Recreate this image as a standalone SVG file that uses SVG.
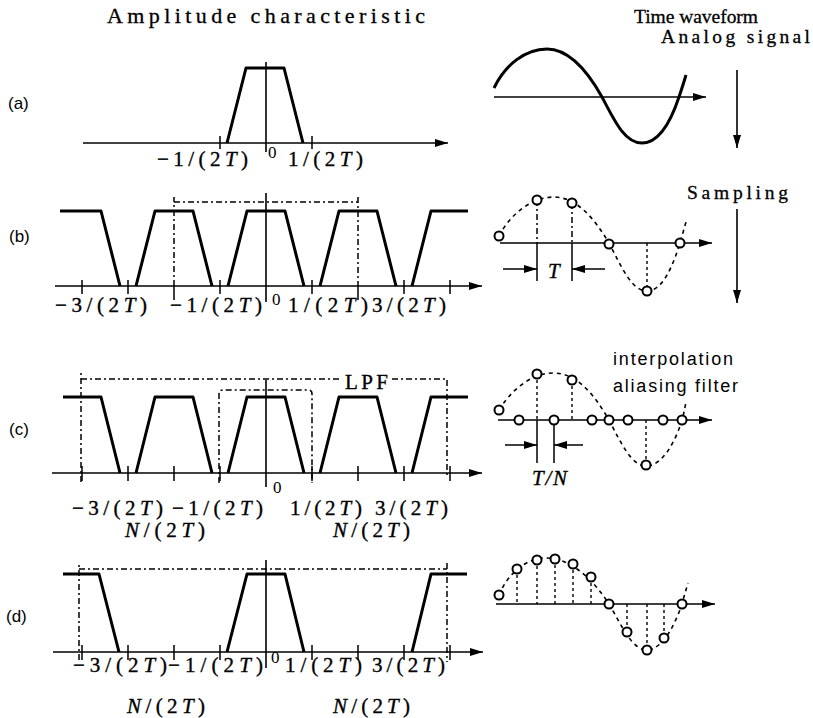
<svg xmlns="http://www.w3.org/2000/svg" width="813" height="718" viewBox="0 0 813 718">
<defs>
<marker id="ah" markerUnits="userSpaceOnUse" markerWidth="14" markerHeight="10" refX="13" refY="4" orient="auto"><path d="M0,0 L13,4 L0,8 z" fill="#000"/></marker>
<style>
.ax{stroke:#000;stroke-width:1.6;fill:none}
.tk{stroke:#000;stroke-width:1.5}
.tr{stroke:#000;stroke-width:3;fill:none;stroke-linejoin:round}
.dd{stroke:#000;stroke-width:1.5;fill:none;stroke-dasharray:6 3 2 3}
.sd{stroke:#000;stroke-width:1.6;fill:none;stroke-dasharray:4 4}
.vl{stroke:#000;stroke-width:1.4;fill:none;stroke-dasharray:3 3}
.sc{fill:#fff;stroke:#000;stroke-width:2}
.lb{font-family:"Liberation Serif",serif;font-size:21px;fill:#000;stroke:#000;stroke-width:0.35}
.zr{font-family:"Liberation Serif",serif;font-size:17px;fill:#000}
.tt{font-family:"Liberation Serif",serif;font-size:22px;fill:#000;stroke:#000;stroke-width:0.3}
.t2{font-family:"Liberation Serif",serif;font-size:19.5px;fill:#000;stroke:#000;stroke-width:0.3}
.ss{font-family:"Liberation Sans",sans-serif;font-size:18px;fill:#000}
.rl{font-family:"Liberation Sans",sans-serif;font-size:17px;fill:#000}
.it{font-style:italic}
</style>
</defs>
<rect width="813" height="718" fill="#fff"/>

<g id="titles">
<text class="tt" x="107" y="23" textLength="318" lengthAdjust="spacing">Amplitude characteristic</text>
<text class="t2" x="634" y="23" textLength="124" lengthAdjust="spacing">Time waveform</text>
</g>

<g id="row-labels">
<text class="rl" x="8" y="109">(a)</text>
<text class="rl" x="9" y="242">(b)</text>
<text class="rl" x="9" y="435">(c)</text>
<text class="rl" x="6" y="622">(d)</text>
</g>

<!-- (a) amplitude -->
<g id="a-spectrum">
<path class="ax" d="M83,143 H448" marker-end="url(#ah)"/>
<path class="ax" d="M266,62 V152"/>
<path class="tk" d="M220,136 V149 M312,136 V149"/>
<path class="tr" d="M227,143 L246,68 L284,68 L303,143"/>
<text class="lb" x="157" y="166" textLength="91" lengthAdjust="spacing">−1/(2<tspan class="it">T</tspan>)</text>
<text class="zr" x="268" y="158">0</text>
<text class="lb" x="288" y="166" textLength="75" lengthAdjust="spacing">1/(2<tspan class="it">T</tspan>)</text>
</g>

<!-- (a) waveform -->
<g id="a-waveform">
<path class="ax" d="M494,97 H706" marker-end="url(#ah)"/>
<path stroke="#000" stroke-width="3" fill="none" d="M494,88 C505,65 525,49 547,49 C570,49 588,72 602,97 C615,122 625,143 642,143 C660,143 672,118 679,97 C682,88 684,82 686,75"/>
<text class="t2" x="661" y="43" textLength="149" lengthAdjust="spacing">Analog signal</text>
<path class="ax" d="M737,70 V148" marker-end="url(#ah)"/>
</g>

<!-- (b) amplitude -->
<g id="b-spectrum">
<path class="ax" d="M55,286 H482" marker-end="url(#ah)"/>
<path class="ax" d="M266,193 V302"/>
<path class="tk" d="M82,280 V294 M128,280 V294 M174,286 V300 M220,280 V294 M312,280 V294 M358,286 V300 M404,280 V294 M450,280 V294"/>
<path class="tr" d="M60,211 L101,211 L120,286"/>
<path class="tr" d="M136,286 L155,211 L193,211 L212,286"/>
<path class="tr" d="M228,286 L247,211 L285,211 L304,286"/>
<path class="tr" d="M320,286 L339,211 L377,211 L396,286"/>
<path class="tr" d="M412,286 L431,211 L468,211"/>
<path class="dd" d="M174,286 V197 M174,202 H358 M358,197 V286"/>
<text class="lb" x="55" y="312" textLength="92" lengthAdjust="spacing">−3/(2<tspan class="it">T</tspan>)</text>
<text class="lb" x="170" y="312" textLength="92" lengthAdjust="spacing">−1/(2<tspan class="it">T</tspan>)</text>
<text class="zr" x="272" y="305">0</text>
<text class="lb" x="288" y="312" textLength="80" lengthAdjust="spacing">1/(2<tspan class="it">T</tspan>)</text>
<text class="lb" x="372" y="312" textLength="74" lengthAdjust="spacing">3/(2<tspan class="it">T</tspan>)</text>
</g>

<!-- (b) waveform -->
<g id="b-waveform">
<path class="ax" d="M500,243 H712" marker-end="url(#ah)"/>
<path class="sd" d="M499,236 C510,215 530,198 553,197 C578,197 595,220 609,243 C622,268 632,291 647,291 C663,291 673,265 680,243 C682,236 684,229 686,222"/>
<path class="dd" d="M537,200 V243 M572,203 V243"/>
<path class="vl" d="M647,243 V291"/>
<path class="tk" d="M537,243 V281 M572,243 V281"/>
<path class="tk" d="M503,269 H537" marker-end="url(#ah)"/>
<path class="tk" d="M605,269 H572" marker-end="url(#ah)"/>
<text class="lb it" x="548" y="278">T</text>
<circle class="sc" cx="499" cy="236" r="4.5"/>
<circle class="sc" cx="537" cy="200" r="4.5"/>
<circle class="sc" cx="572" cy="203" r="4.5"/>
<circle class="sc" cx="609" cy="244" r="4.5"/>
<circle class="sc" cx="647" cy="291" r="4.5"/>
<circle class="sc" cx="680" cy="243" r="4.5"/>
<text class="t2" x="687" y="199" textLength="101" lengthAdjust="spacing">Sampling</text>
<path class="ax" d="M737,209 V303" marker-end="url(#ah)"/>
</g>

<!-- (c) amplitude -->
<g id="c-spectrum">
<path class="ax" d="M52,473 H482" marker-end="url(#ah)"/>
<path class="ax" d="M266,380 V487"/>
<path class="tk" d="M82,466 V481 M128,466 V481 M174,466 V481 M220,466 V481 M312,466 V481 M358,466 V481 M404,466 V481 M450,466 V481"/>
<path class="tr" d="M63,397 L101,397 L120,473"/>
<path class="tr" d="M136,473 L155,397 L193,397 L212,473"/>
<path class="tr" d="M228,473 L247,397 L285,397 L304,473"/>
<path class="tr" d="M320,473 L339,397 L377,397 L396,473"/>
<path class="tr" d="M412,473 L431,397 L468,397"/>
<path class="dd" d="M81,482 V370 M81,379 H341 M392,379 H447 V476"/>
<path class="dd" d="M219,483 V394 Q219,390 223,390 H308 Q312,390 312,394 V483"/>
<text class="lb" x="345" y="389" textLength="43" lengthAdjust="spacing">LPF</text>
<text class="lb" x="72" y="515" textLength="91" lengthAdjust="spacing">−3/(2<tspan class="it">T</tspan>)</text>
<text class="lb" x="172" y="515" textLength="91" lengthAdjust="spacing">−1/(2<tspan class="it">T</tspan>)</text>
<text class="zr" x="273" y="493">0</text>
<text class="lb" x="290" y="515" textLength="72" lengthAdjust="spacing">1/(2<tspan class="it">T</tspan>)</text>
<text class="lb" x="375" y="515" textLength="73" lengthAdjust="spacing">3/(2<tspan class="it">T</tspan>)</text>
<text class="lb" x="125" y="537" textLength="80" lengthAdjust="spacing"><tspan class="it">N</tspan>/(2<tspan class="it">T</tspan>)</text>
<text class="lb" x="333" y="537" textLength="77" lengthAdjust="spacing"><tspan class="it">N</tspan>/(2<tspan class="it">T</tspan>)</text>
</g>

<!-- (c) waveform -->
<g id="c-waveform">
<path class="ax" d="M498,420 H712" marker-end="url(#ah)"/>
<path class="sd" d="M499,410 C510,392 530,373 553,373 C578,373 595,396 609,420 C622,445 632,466 646,466 C663,466 676,440 682,420 C684,413 685,408 686,401"/>
<path class="vl" d="M537,374 V420 M572,380 V420 M646,420 V465"/>
<path class="tk" d="M537,420 V463 M554,420 V463"/>
<path class="tk" d="M505,445 H537" marker-end="url(#ah)"/>
<path class="tk" d="M583,445 H554" marker-end="url(#ah)"/>
<text class="lb it" x="532" y="485" textLength="35" lengthAdjust="spacing">T/N</text>
<circle class="sc" cx="499" cy="410" r="4.5"/>
<circle class="sc" cx="537" cy="374" r="4.5"/>
<circle class="sc" cx="572" cy="380" r="4.5"/>
<circle class="sc" cx="646" cy="465" r="4.5"/>
<circle class="sc" cx="519" cy="420" r="4.5"/>
<circle class="sc" cx="554" cy="420" r="4.5"/>
<circle class="sc" cx="592" cy="420" r="4.5"/>
<circle class="sc" cx="609" cy="420" r="4.5"/>
<circle class="sc" cx="628" cy="420" r="4.5"/>
<circle class="sc" cx="663" cy="420" r="4.5"/>
<circle class="sc" cx="682" cy="420" r="4.5"/>
<text class="ss" x="613" y="365" textLength="120" lengthAdjust="spacing">interpolation</text>
<text class="ss" x="613" y="392" textLength="125" lengthAdjust="spacing">aliasing filter</text>
</g>

<!-- (d) amplitude -->
<g id="d-spectrum">
<path class="ax" d="M53,652 H483" marker-end="url(#ah)"/>
<path class="ax" d="M266,560 V668"/>
<path class="tk" d="M82,645 V660 M128,645 V660 M174,645 V660 M220,645 V660 M312,645 V660 M358,645 V660 M404,645 V660 M450,645 V660"/>
<path class="tr" d="M63,574 L99,574 L119,652"/>
<path class="tr" d="M227,652 L247,574 L285,574 L304,652"/>
<path class="tr" d="M412,652 L431,574 L467,574"/>
<path class="dd" d="M79,660 V563 M79,569 H447 M447,563 V662"/>
<text class="lb" x="73" y="672" textLength="94" lengthAdjust="spacing">−3/(2<tspan class="it">T</tspan>)</text>
<text class="lb" x="168" y="672" textLength="95" lengthAdjust="spacing">−1/(2<tspan class="it">T</tspan>)</text>
<text class="zr" x="271" y="663">0</text>
<text class="lb" x="285" y="672" textLength="77" lengthAdjust="spacing">1/(2<tspan class="it">T</tspan>)</text>
<text class="lb" x="372" y="672" textLength="73" lengthAdjust="spacing">3/(2<tspan class="it">T</tspan>)</text>
<text class="lb" x="127" y="713" textLength="78" lengthAdjust="spacing"><tspan class="it">N</tspan>/(2<tspan class="it">T</tspan>)</text>
<text class="lb" x="333" y="713" textLength="77" lengthAdjust="spacing"><tspan class="it">N</tspan>/(2<tspan class="it">T</tspan>)</text>
</g>

<!-- (d) waveform -->
<g id="d-waveform">
<path class="ax" d="M496,604 H715" marker-end="url(#ah)"/>
<path class="sd" d="M499,595 C507,575 525,558 546,558 C570,558 592,578 609,604 C622,626 632,650 647,650 C662,650 675,625 682,604 C684,596 686,590 688,583"/>
<path class="vl" d="M517,569 V604 M537,560 V604 M555,559 V604 M573,564 V604 M591,577 V604 M627,604 V632 M647,604 V650 M664,604 V638"/>
<circle class="sc" cx="499" cy="595" r="4.5"/>
<circle class="sc" cx="517" cy="569" r="4.5"/>
<circle class="sc" cx="537" cy="560" r="4.5"/>
<circle class="sc" cx="555" cy="559" r="4.5"/>
<circle class="sc" cx="573" cy="564" r="4.5"/>
<circle class="sc" cx="591" cy="577" r="4.5"/>
<circle class="sc" cx="609" cy="604" r="4.5"/>
<circle class="sc" cx="627" cy="632" r="4.5"/>
<circle class="sc" cx="647" cy="650" r="4.5"/>
<circle class="sc" cx="664" cy="638" r="4.5"/>
<circle class="sc" cx="682" cy="604" r="4.5"/>
</g>
</svg>
